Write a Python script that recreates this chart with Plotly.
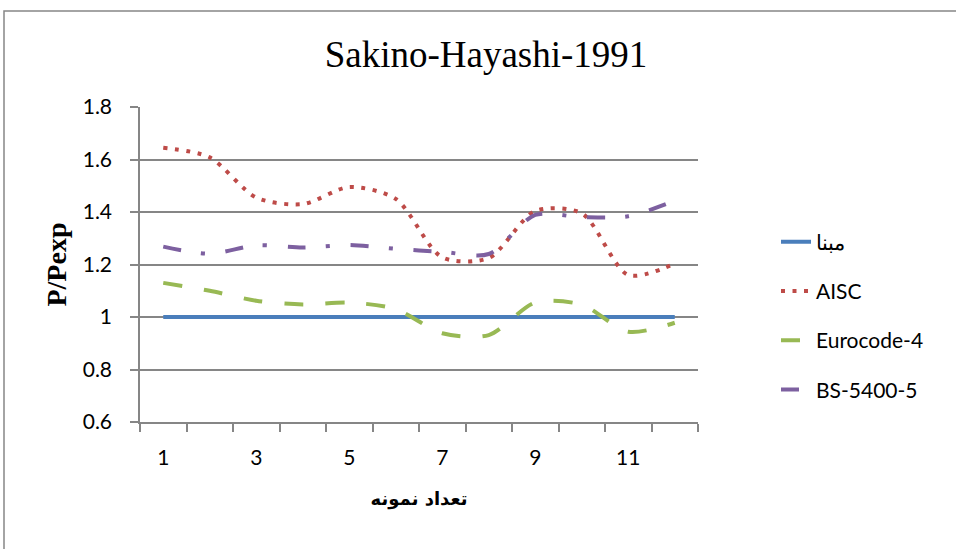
import plotly.graph_objects as go

samples = list(range(1, 13))
tick_labels = ["1", "3", "5", "7", "9", "11"]
tick_positions = [1, 3, 5, 7, 9, 11]

base = [1.0] * 12
aisc = [1.645, 1.608, 1.455, 1.43, 1.495, 1.45, 1.227, 1.225, 1.404, 1.395, 1.16, 1.203]
eurocode4 = [1.13, 1.10, 1.062, 1.048, 1.055, 1.03, 0.938, 0.931, 1.055, 1.047, 0.944, 0.978]
bs5400 = [1.268, 1.241, 1.273, 1.265, 1.274, 1.26, 1.248, 1.24, 1.389, 1.38, 1.384, 1.443]

names = ["مبنا", "AISC", "Eurocode-4", "BS-5400-5"]
colors = ["#4a7ebb", "#be4b48", "#98b954", "#7d60a0"]
dashes = ["solid", "4px,7.5px", "19px,22px", "18px,20px,4px,21px"]
series = [base, aisc, eurocode4, bs5400]

fig = go.Figure()
for i, (nm, vals) in enumerate(zip(names, series)):
    fig.add_trace(go.Scatter(
        x=samples, y=vals, name=nm, mode="lines",
        line=dict(color=colors[i], width=4, dash=dashes[i], shape="spline", smoothing=0.8),
        legendgroup=f"g{i}",
    ))

L, R, T, B = 140, 698, 107, 422
W, H = 956, 549

grid_col = "#868686"
fig.update_layout(
    width=W, height=H,
    margin=dict(l=L, r=W - R, t=T, b=H - B, autoexpand=False),
    paper_bgcolor="white", plot_bgcolor="white",
    title=dict(text="Sakino-Hayashi-1991", x=486 / W, xanchor="center",
               y=1 - 54 / H, yanchor="middle",
               font=dict(family="Liberation Serif", size=37, color="black")),
    showlegend=True,
    legend=dict(x=(776 - L) / (R - L), xanchor="left", y=(B - 316) / (B - T), yanchor="middle",
                font=dict(family="Lato", size=21, color="black"),
                tracegroupgap=19, bgcolor="rgba(0,0,0,0)"),
    xaxis=dict(range=[0.5, 12.5], tickmode="array", tickvals=tick_positions, ticktext=tick_labels,
               ticks="", showgrid=False, showline=True, linecolor=grid_col, linewidth=1.5,
               zeroline=False, ticklabelstandoff=16,
               tickfont=dict(family="Lato", size=21, color="black"),
               minor=dict(tickmode="linear", tick0=0.5, dtick=1, ticks="outside", ticklen=8,
                          tickcolor=grid_col, tickwidth=1.5, showgrid=False),
               title=dict(text="تعداد نمونه", standoff=24,
                          font=dict(family="DejaVu Sans", size=18, color="black", weight="bold"))),
    yaxis=dict(range=[0.6, 1.8], dtick=0.2, tick0=0.6, ticks="outside", ticklen=8,
               tickcolor=grid_col, tickwidth=1.5, showgrid=True, gridcolor=grid_col, gridwidth=1.5,
               showline=True, linecolor=grid_col, linewidth=1.5, zeroline=False,
               ticklabelstandoff=14,
               tickfont=dict(family="Lato", size=21, color="black"),
               title=dict(text="P/Pexp", standoff=8,
                          font=dict(family="Liberation Serif", size=28, color="black", weight="bold"))),
    shapes=[dict(type="rect", xref="paper", yref="paper",
                 x0=(4 - L) / (R - L), x1=(1100 - L) / (R - L),
                 y0=(B - 700) / (B - T), y1=(B - 11) / (B - T),
                 line=dict(color=grid_col, width=1.5), fillcolor="rgba(0,0,0,0)", layer="below")],
)

fig.write_html("out.html", config={"displayModeBar": False},
               post_script="document.body.style.margin='0';document.body.style.overflow='hidden';")
